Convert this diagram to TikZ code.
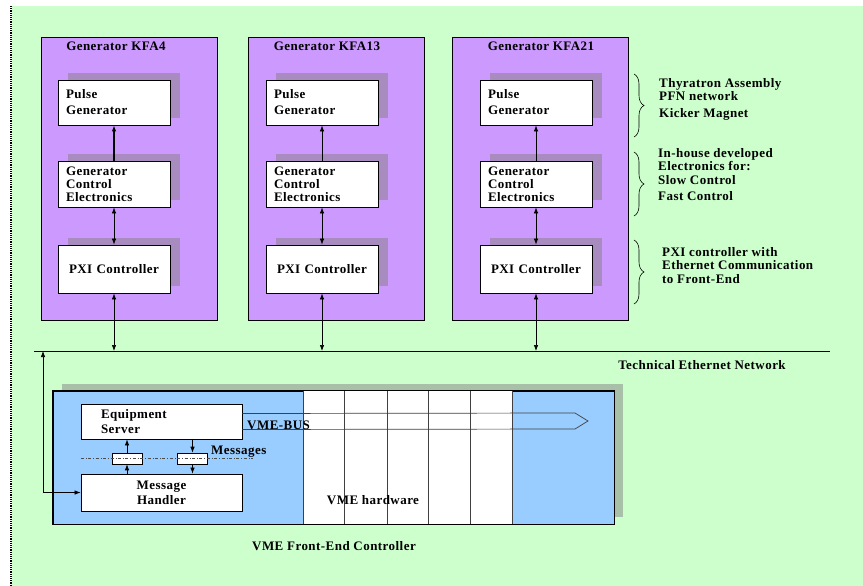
\documentclass[tikz,border=0pt]{standalone}
\usepackage{fontspec}
\setmainfont{Liberation Serif}[LetterSpace=3.5]
\usetikzlibrary{arrows.meta,shadows,decorations.pathreplacing}
\definecolor{bggreen}{HTML}{CCFFCC}
\definecolor{genpurple}{HTML}{CC99FF}
\definecolor{shpurple}{HTML}{A88CBF}
\definecolor{vmeblue}{HTML}{99CCFF}
\definecolor{shgreen}{HTML}{A8BFA8}

\begin{document}
\begin{tikzpicture}[x=1pt,y=-1pt,font=\rmfamily\bfseries\fontsize{13}{13}\selectfont]
\tikzset{frame/.style = {draw,line width=0.9pt,fill=genpurple,minimum width=176pt,minimum height=283pt}}
\tikzset{block/.style = {draw,line width=0.8pt,fill=white,text width=96pt,inner xsep=8pt,inner ysep=0pt,align=left,
  drop shadow={shadow xshift=10pt,shadow yshift=7pt,fill=shpurple,opacity=1}}}
\tikzset{link/.style = {line width=0.7pt,> = {Latex[length=6pt,width=4.5pt]}}}
\tikzset{vmebox/.style = {draw,line width=1pt,fill=vmeblue,minimum width=561pt,minimum height=133pt,
  drop shadow={shadow xshift=9pt,shadow yshift=7.5pt,fill=shgreen,opacity=1}}}
\tikzset{srvbox/.style = {draw,line width=0.8pt,fill=white,minimum width=161pt,inner ysep=0pt}}
\tikzset{msgbox/.style = {draw,line width=0.6pt,fill=white,minimum width=30pt,minimum height=11pt,inner sep=0pt}}
\tikzset{hwline/.style = {line width=0.7pt,black!75}}
\tikzset{brace/.style = {decorate,decoration={brace,amplitude=10pt},line width=0.6pt}}
\tikzset{note/.style = {anchor=west,align=left,inner sep=0pt}}
\useasboundingbox (0,0) rectangle (863,586);
% background
\fill[white] (0,0) rectangle (863,586);
\fill[bggreen] (12,6) rectangle (863,586);
\draw[densely dotted,line width=1.2pt] (11,6) -- (11,586);
% generator frames
\node[frame] (kfa4) at (129,178.5) {};
\node[frame] (kfa13) at (336,178.5) {};
\node[frame] (kfa21) at (540,178.5) {};
\node (t4) at (116,46) {Generator KFA4};
\node (t13) at (327,46) {Generator KFA13};
\node (t21) at (541,46) {Generator KFA21};
% blocks
\node[block,minimum height=45pt] (pg1) at (114,102.5) {Pulse\\[3pt]Generator};
\node[block,minimum height=46pt] (gce1) at (114,184) {Generator\\Control\\Electronics};
\node[block,minimum height=48pt,align=center] (pxi1) at (114,269) {PXI Controller};
\node[block,minimum height=45pt] (pg2) at (322,102.5) {Pulse\\[3pt]Generator};
\node[block,minimum height=46pt] (gce2) at (322,184) {Generator\\Control\\Electronics};
\node[block,minimum height=48pt,align=center] (pxi2) at (322,269) {PXI Controller};
\node[block,minimum height=45pt] (pg3) at (536,102.5) {Pulse\\[3pt]Generator};
\node[block,minimum height=46pt] (gce3) at (536,184) {Generator\\Control\\Electronics};
\node[block,minimum height=48pt,align=center] (pxi3) at (536,269) {PXI Controller};
% network
\coordinate (netL) at (34,351);
\coordinate (netR) at (830,351);
\coordinate (fecup) at (43,351);
\draw[line width=0.8pt] (netL) -- (netR);
\node (ten) at (702,365) {Technical Ethernet Network};
%edges
\draw[link,->,line width=1.1pt] (gce1) -- (pg1);
\draw[link,<->] (gce1) -- (pxi1);
\draw[link,<->] (pxi1) -- (pxi1 |- netL);
\draw[link,->] (gce2) -- (pg2);
\draw[link,<->] (gce2) -- (pxi2);
\draw[link,<->] (pxi2) -- (pxi2 |- netL);
\draw[link,->] (gce3) -- (pg3);
\draw[link,<->] (gce3) -- (pxi3);
\draw[link,<->] (pxi3) -- (pxi3 |- netL);
% front-end
\node[vmebox] (vme) at (333.5,457.5) {};
\fill[white] (303,391) rectangle (512,524);
\draw[hwline] (303,391) -- (303,524) (344,391) -- (344,524) (387,391) -- (387,524)
  (428,391) -- (428,524) (470,391) -- (470,524) (512,391) -- (512,524);
\draw[line width=1pt] (vme.north west) rectangle (vme.south east);
\node[srvbox,minimum height=35pt,text width=121pt,inner xsep=20pt,align=left] (es) at (161.5,421.5) {Equipment\\[2pt]Server};
\node[srvbox,minimum height=37pt,align=center] (mh) at (161.5,492.5) {Message\\[2pt]Handler};
\node[msgbox] (ma) at (127,458.5) {};
\node[msgbox] (mb) at (192.5,458.5) {};
\draw[dash dot,line width=0.6pt,black!70] (81,458) -- (253,458);
\draw[hwline] ([yshift=8pt]es.east) -- (575,413) -- (588,421) -- (575,429) -- ([yshift=-8pt]es.east);
\draw[link,->] (mh.north -| ma) -- (ma.south);
\draw[link,->] (ma.north) -- (ma.north |- es.south);
\draw[link,->] (es.south -| mb) -- (mb.north);
\draw[link,->] (mb.south) -- (mb.south |- mh.north);
\draw[link,<->] (fecup) |- (mh.west);
\node[anchor=west,inner sep=0pt] (bus) at (247,425) {VME-BUS};
\node[anchor=west,inner sep=0pt] (msg) at (211,452) {Messages};
\node (hw) at (373,500) {VME hardware};
\node (fec) at (334,546) {VME Front-End Controller};
% annotations
\draw[brace] (634,74) -- (634,137);
\draw[brace] (634,152) -- (634,216);
\draw[brace] (634,240) -- (634,304);
\node[note] (thy) at (659,99) {Thyratron Assembly\\PFN network\\[4pt]Kicker Magnet};
\node[note] (ihd) at (658,174.5) {In-house developed\\Electronics for:\\[1pt]Slow Control\\[3pt]Fast Control};
\node[note] (pxc) at (662,265.5) {PXI controller with\\Ethernet Communication\\[1pt]to Front-End};
\end{tikzpicture}
\end{document}
